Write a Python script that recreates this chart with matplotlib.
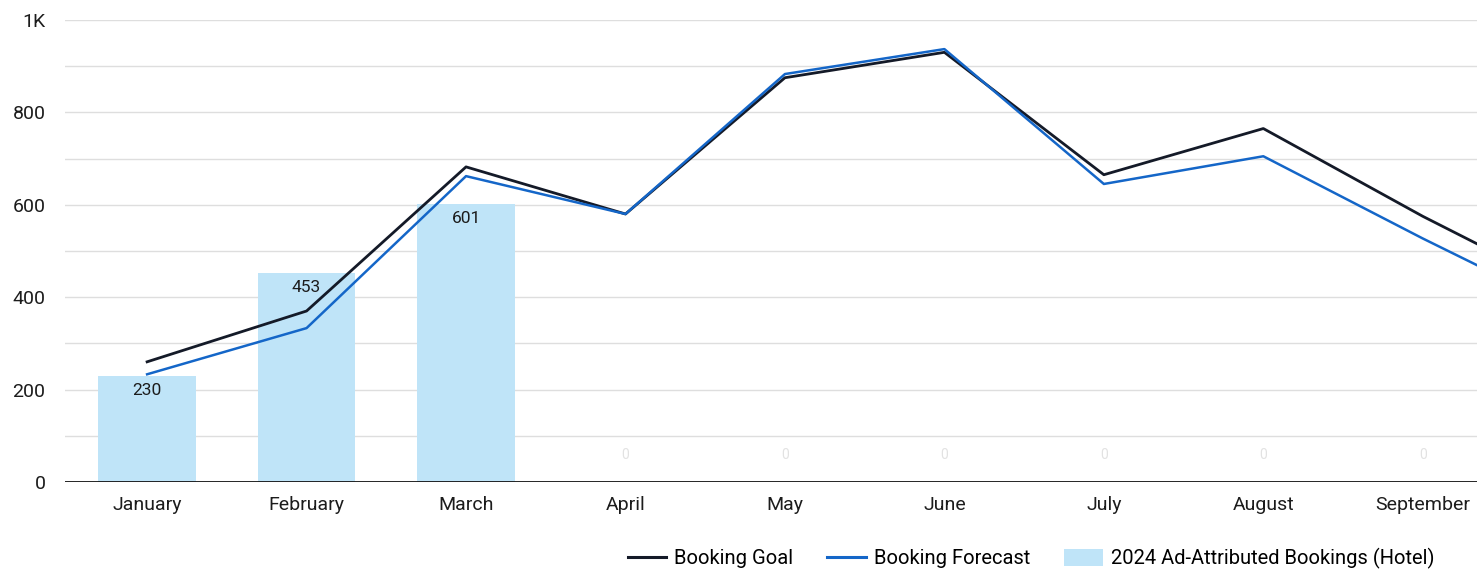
import matplotlib.pyplot as plt
from matplotlib.lines import Line2D
from matplotlib.patches import Patch
import numpy as np

plt.rcParams['font.family'] = ['Roboto', 'DejaVu Sans']

# monthly data
months = ["January", "February", "March", "April", "May", "June",
          "July", "August", "September", "October"]
booking_goal = [260, 370, 682, 580, 875, 930, 665, 765, 575, 400]
booking_forecast = [233, 333, 662, 580, 883, 937, 645, 705, 527, 357]
ad_bookings = [230, 453, 601, 0, 0, 0, 0, 0, 0]

goal_color = "#141a28"
forecast_color = "#1466c8"
bar_color = "#bfe4f8"
text_color = "#1c1c1c"

fig = plt.figure(figsize=(14.77, 5.71), dpi=100)
ax = fig.add_axes([0.044, 0.156, 0.956, 0.809])

x = np.arange(len(months))
xb = np.arange(len(ad_bookings))

ax.bar(xb, ad_bookings, width=0.61, color=bar_color, zorder=2)
for xi, v in zip(xb, ad_bookings):
    if v > 0:
        ax.annotate(str(v), (xi, v), xytext=(0, -5), textcoords="offset points",
                    ha="center", va="top", fontsize=12.5, color=text_color, zorder=5)
    else:
        ax.annotate("0", (xi, v), xytext=(0, 14), textcoords="offset points",
                    ha="center", va="bottom", fontsize=10, color="#e2e2e2", zorder=1)

ax.plot(x, booking_goal, color=goal_color, lw=2.0, zorder=4)
ax.plot(x, booking_forecast, color=forecast_color, lw=1.8, zorder=4)

ax.set_xlim(-0.515, 8.34)
ax.set_ylim(0, 1000)
ax.set_xticks(xb)
ax.set_xticklabels(months[:len(xb)], fontsize=14, color=text_color)
ax.set_yticks([0, 200, 400, 600, 800, 1000])
ax.set_yticklabels(["0", "200", "400", "600", "800", "1K"], fontsize=14, color=text_color)
ax.set_yticks(np.arange(100, 1000, 200), minor=True)
ax.tick_params(axis="y", length=0, pad=14)
ax.tick_params(axis="x", length=0, pad=10)
ax.tick_params(which="minor", length=0)

ax.grid(axis="y", which="both", color="#dedede", lw=1.0, zorder=0)
ax.axhline(0, color="#111111", lw=2.0, zorder=3)
for s in ax.spines.values():
    s.set_visible(False)

handles = [
    Line2D([0], [0], color=goal_color, lw=2.2),
    Line2D([0], [0], color=forecast_color, lw=2.2),
    Patch(facecolor=bar_color, edgecolor="none"),
]
labels = ["Booking Goal", "Booking Forecast", "2024 Ad-Attributed Bookings (Hotel)"]
fig.legend(handles, labels, loc="center", bbox_to_anchor=(0.698, 0.022), ncol=3,
           frameon=False, fontsize=14.5, handlelength=1.9, handletextpad=0.4,
           columnspacing=1.7, handleheight=0.9)

fig.savefig("out.png", dpi=100, facecolor="white")
